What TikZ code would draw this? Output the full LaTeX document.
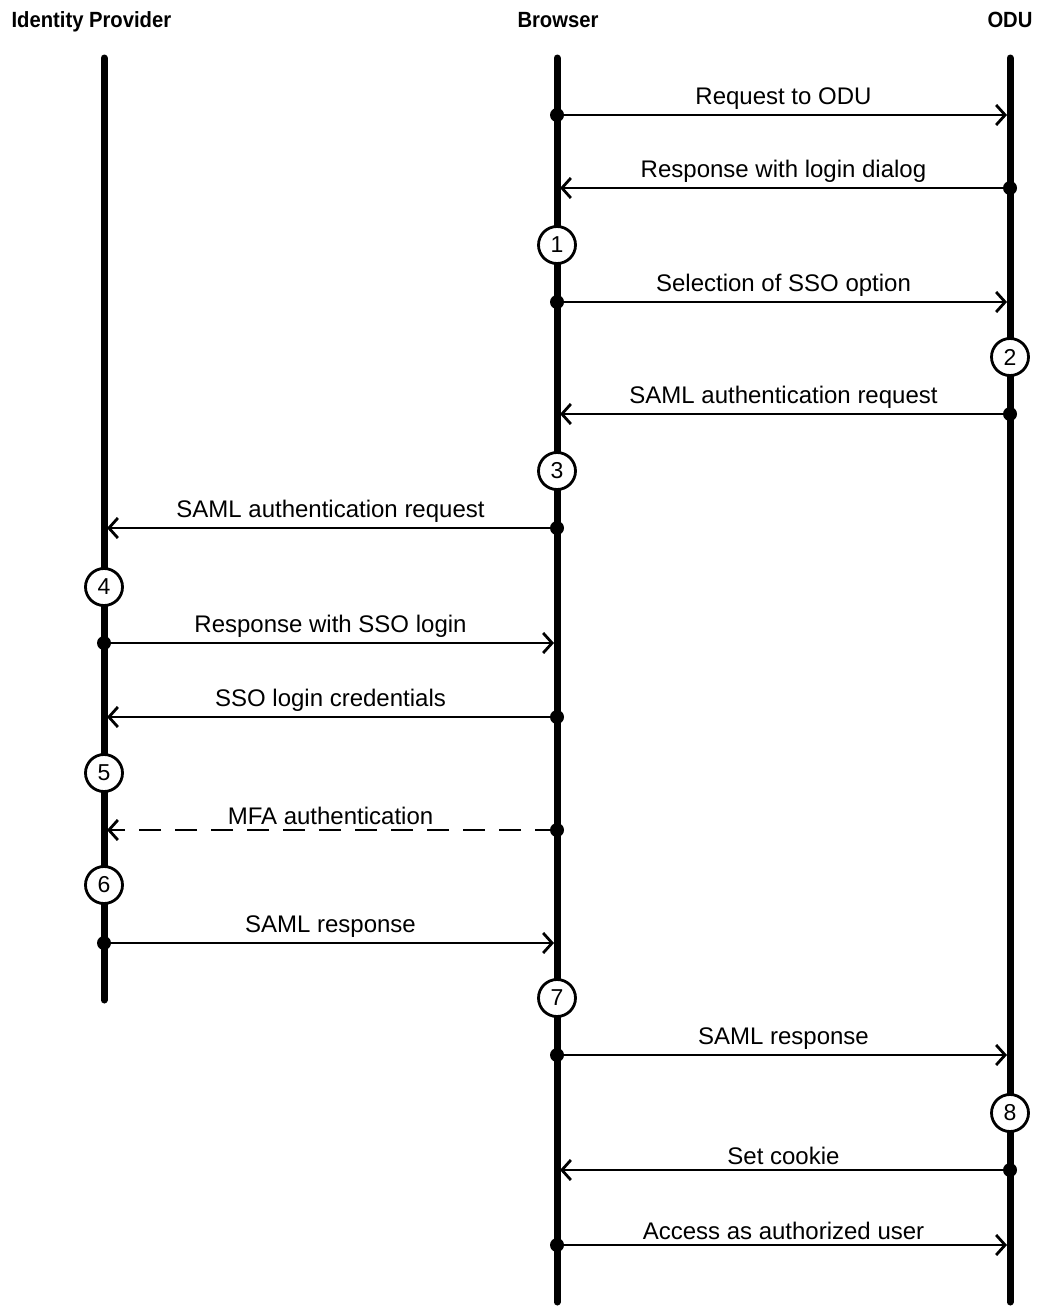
\documentclass[tikz,border=0pt]{standalone}
\usepackage{fontspec}
\setmainfont{Liberation Sans}
\newfontfamily\headfont[FakeStretch=0.92]{Liberation Sans}
\usetikzlibrary{arrows.meta}
\tikzset{
  lifeline/.style={line width=7pt,line cap=round},
  msg/.style={line width=2.8pt,-{Straight Barb[length=9pt,width=20pt,line width=2.8pt]},shorten >=3pt},
  msgtext/.style={midway,above=1pt,font=\fontsize{24}{28}\selectfont},
  head/.style={font=\headfont\bfseries\fontsize{22}{26}\selectfont},
  stepno/.style={circle,draw,line width=2.8pt,fill=white,minimum size=37pt,inner sep=0pt,font=\fontsize{23}{27}\selectfont}
}
\begin{document}
\begin{tikzpicture}[x=1pt,y=-1pt]
    \useasboundingbox (0,0) rectangle (1039,1307);
    % Headers
    \node[head,anchor=base west] (idp) at (8,27) {Identity Provider};
    \node[head,anchor=base] (brw) at (558,27) {Browser};
    \node[head,anchor=base east] (odu) at (1036,27) {ODU};
    % Lifelines
    \coordinate (idptop) at (104,58);
    \coordinate (idpbot) at (104,1000);
    \coordinate (brwtop) at (557,58);
    \coordinate (brwbot) at (557,1302);
    \coordinate (odutop) at (1010,58);
    \coordinate (odubot) at (1010,1302);
    \draw[lifeline] (idptop) -- (idpbot);
    \draw[lifeline] (brwtop) -- (brwbot);
    \draw[lifeline] (odutop) -- (odubot);
    % Points on the lifelines
    \foreach \n/\y in {1/115,2/188,3/302,4/414,5/528,6/643,7/717,8/830,9/943,10/1055,11/1170,12/1245} {
        \coordinate (i\n) at (104,\y);
        \coordinate (b\n) at (557,\y);
        \coordinate (o\n) at (1010,\y);
    }
    % Messages
    \draw[msg] (b1) -- (o1) node[msgtext] {Request to ODU};
    \draw[msg] (o2) -- (b2) node[msgtext] {Response with login dialog};
    \draw[msg] (b3) -- (o3) node[msgtext] {Selection of SSO option};
    \draw[msg] (o4) -- (b4) node[msgtext] {SAML authentication request};
    \draw[msg] (b5) -- (i5) node[msgtext] {SAML authentication request};
    \draw[msg] (i6) -- (b6) node[msgtext] {Response with SSO login};
    \draw[msg] (b7) -- (i7) node[msgtext] {SSO login credentials};
    \draw[msg,dash pattern=on 22pt off 14pt] (b8) -- (i8) node[msgtext] {MFA authentication};
    \draw[msg] (i9) -- (b9) node[msgtext] {SAML response};
    \draw[msg] (b10) -- (o10) node[msgtext] {SAML response};
    \draw[msg] (o11) -- (b11) node[msgtext] {Set cookie};
    \draw[msg] (b12) -- (o12) node[msgtext] {Access as authorized user};
    % Sender dots
    \foreach \p in {b1,o2,b3,o4,b5,i6,b7,b8,i9,b10,o11,b12}
        \fill (\p) circle (7);
    % Steps
    \node[stepno] (s1) at (557,245) {1};
    \node[stepno] (s2) at (1010,357) {2};
    \node[stepno] (s3) at (557,471) {3};
    \node[stepno] (s4) at (104,587) {4};
    \node[stepno] (s5) at (104,773) {5};
    \node[stepno] (s6) at (104,885) {6};
    \node[stepno] (s7) at (557,998) {7};
    \node[stepno] (s8) at (1010,1113) {8};
\end{tikzpicture}
\end{document}
